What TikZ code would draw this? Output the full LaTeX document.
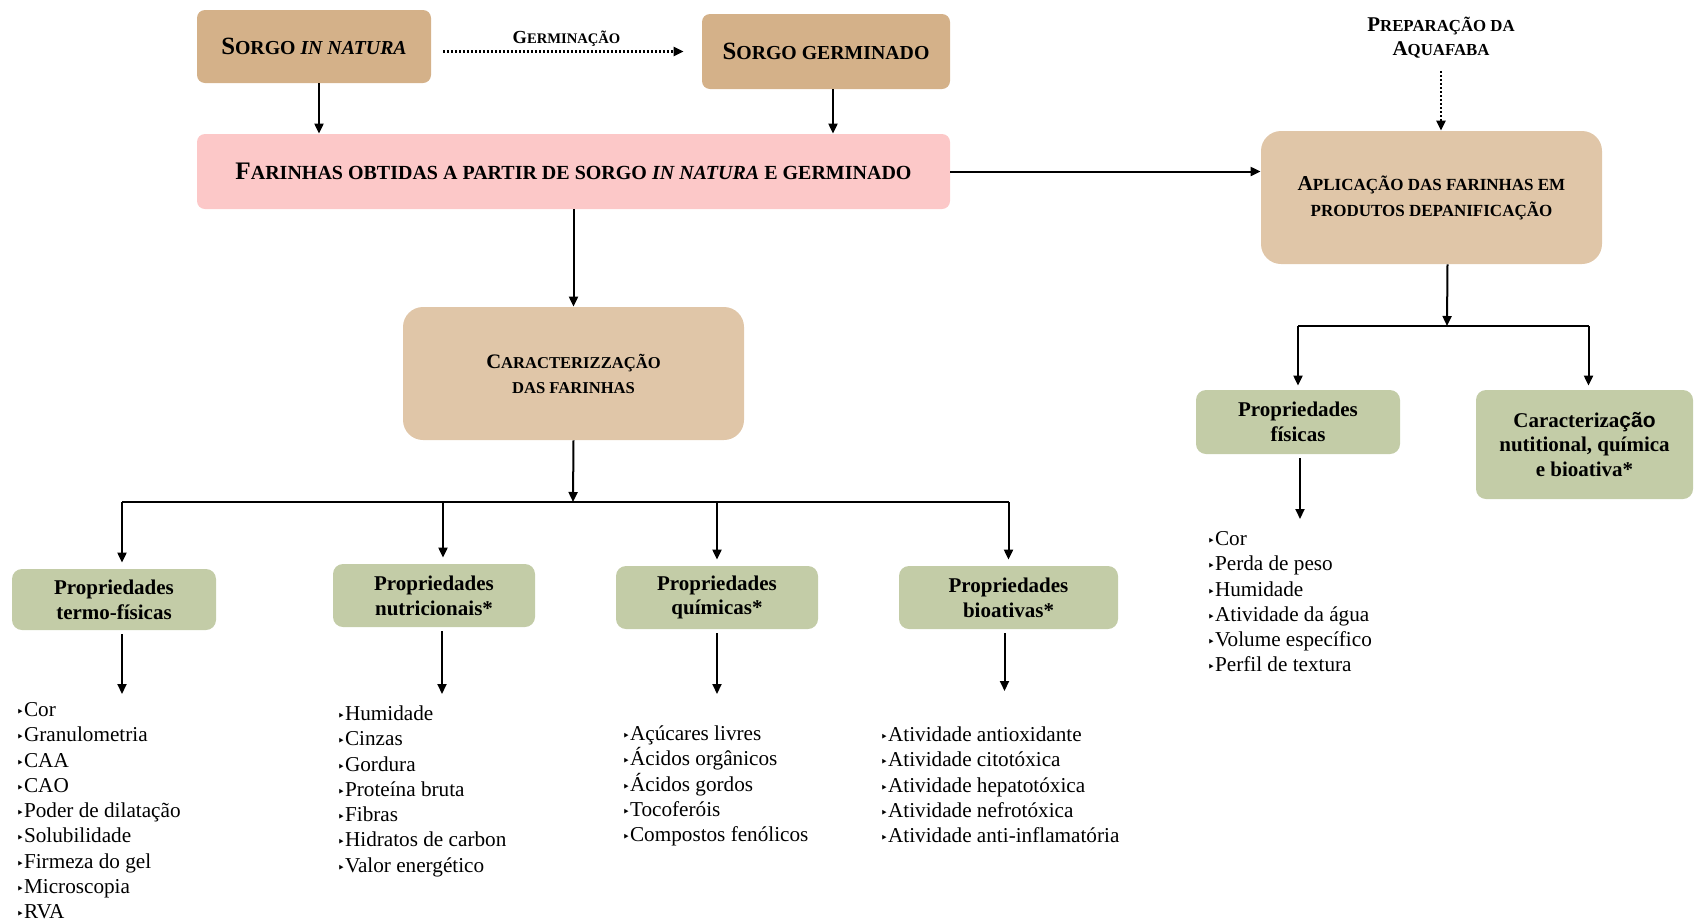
\documentclass[tikz,border=0pt]{standalone}
\usepackage{fontspec}
\setmainfont{Liberation Serif}
\setsansfont{Liberation Sans}
\newfontfamily\dvs{DejaVu Sans}
\usetikzlibrary{arrows.meta}
\definecolor{tanA}{RGB}{212,177,137}
\definecolor{tanB}{RGB}{224,198,168}
\definecolor{pinkA}{RGB}{252,200,200}
\definecolor{greenA}{RGB}{195,204,167}
\newcommand\Cp[2]{{\fontsize{#1}{#1}\selectfont #2}}
\newcommand\bl{{\dvs\fontsize{6.5}{6.5}\selectfont ‣}}
\newcommand\fr{\rule{0pt}{9pt}}
\begin{document}
\begin{tikzpicture}[x=0.5pt,y=-0.5pt,
  box/.style={inner sep=0pt, align=center, font=\bfseries},
  tanbox/.style={box, fill=tanA, rounded corners=4pt},
  lightbox/.style={box, fill=tanB, rounded corners=10pt},
  pinkbox/.style={box, fill=pinkA, rounded corners=4pt},
  greenbox/.style={box, fill=greenA, rounded corners=5pt, font=\bfseries\fontsize{10.5}{12.4}\selectfont},
  lst/.style={inner sep=0pt, align=left, anchor=north west, font=\fontsize{10.6}{12.65}\selectfont},
  arr/.style={-{Triangle[length=5pt,width=4.5pt]}, line width=1pt},
  dotarr/.style={-{Triangle[length=5pt,width=4.5pt]}, line width=1.2pt, dash pattern=on 1pt off 1pt},
  bus/.style={line width=1pt}
]
\useasboundingbox (0,0) rectangle (1694,922);

% top row
\node[tanbox, minimum width=117pt, minimum height=36.5pt, font=\bfseries\fontsize{9.9}{12}\selectfont] (sin) at (314,46.5)
  {\Cp{12.4}{S}ORGO \textit{IN NATURA}};
\node[tanbox, minimum width=124pt, minimum height=37.5pt, font=\bfseries\fontsize{9.9}{12}\selectfont] (sger) at (826,51.5)
  {\Cp{12.4}{S}ORGO GERMINADO};
\draw[dotarr, shorten <=6pt, shorten >=9pt] (sin.east |- sger.west) -- (sger.west)
  node[midway, above=1pt, inner sep=1pt, font=\bfseries\fontsize{7.3}{8}\selectfont] (gerl) {\Cp{9.2}{G}ERMINAÇÃO};

% farinhas
\node[pinkbox, minimum width=376.5pt, minimum height=37.5pt, font=\bfseries\fontsize{10}{12}\selectfont] (far) at (573.5,171.5)
  {\Cp{12.6}{F}ARINHAS OBTIDAS A PARTIR DE SORGO \textit{IN NATURA} E GERMINADO};
\draw[arr] ([xshift=2.5pt]sin.south) -- ([xshift=2.5pt]sin.south |- far.north);
\draw[arr] ([xshift=3.5pt]sger.south) -- ([xshift=3.5pt]sger.south |- far.north);

% aplicacao
\node[lightbox, minimum width=170.5pt, minimum height=66.5pt, font=\bfseries\fontsize{8.5}{13}\selectfont] (apl) at (1431.5,197.5)
  {\Cp{10.6}{A}PLICAÇÃO DAS FARINHAS EM\\PRODUTOS DEPANIFICAÇÃO};
\draw[arr] (far.east) -- (far.east -| apl.west);
\node[inner sep=0pt, align=center, font=\bfseries\fontsize{8.4}{12}\selectfont] (prep) at (1441,38)
  {\Cp{10.5}{P}REPARAÇÃO DA\\\Cp{10.5}{A}QUAFABA};
\draw[dotarr, shorten <=6pt] (prep.south) -- (prep.south |- apl.north);

% caracterizacao
\node[lightbox, minimum width=170.5pt, minimum height=66.5pt, font=\bfseries\fontsize{8.3}{12.5}\selectfont] (car) at (573.5,373.5)
  {\Cp{10.3}{C}ARACTERIZZAÇÃO\\DAS FARINHAS};
\draw[arr] (far.south) -- (car.north);

% green boxes row
\node[greenbox, minimum width=102pt, minimum height=30.5pt] (g1) at (114,599.5) {Propriedades\\termo-físicas};
\node[greenbox, minimum width=101pt, minimum height=31.5pt] (g2) at (434,595.5) {Propriedades\\nutricionais*};
\node[greenbox, minimum width=101pt, minimum height=31.5pt] (g3) at (717,597.5) {Propriedades\\químicas*};
\node[greenbox, minimum width=109.5pt, minimum height=31.5pt] (g4) at (1008.5,597.5) {Propriedades\\bioativas*};

\coordinate (busc) at (573,502);
\draw[arr] (car.south) -- (busc);
\draw[bus] ([xshift=4pt]g1.north |- busc) -- (g4.north |- busc);
\draw[arr, shorten >=3pt] ([xshift=4pt]g1.north |- busc) -- ([xshift=4pt]g1.north);
\draw[arr, shorten >=3pt] ([xshift=4.5pt]g2.north |- busc) -- ([xshift=4.5pt]g2.north);
\draw[arr, shorten >=3pt] (g3.north |- busc) -- (g3.north);
\draw[arr, shorten >=3pt] (g4.north |- busc) -- (g4.north);

% lists
\node[lst] (l1) at (16,698) {\fr\bl Cor\\\bl Granulometria\\\bl CAA\\\bl CAO\\\bl Poder de dilatação\\\bl Solubilidade\\\bl Firmeza do gel\\\bl Microscopia\\\bl RVA};
\node[lst] (l2) at (337,702) {\fr\bl Humidade\\\bl Cinzas\\\bl Gordura\\\bl Proteína bruta\\\bl Fibras\\\bl Hidratos de carbon\\\bl Valor energético};
\node[lst] (l3) at (622,722) {\fr\bl Açúcares livres\\\bl Ácidos orgânicos\\\bl Ácidos gordos\\\bl Tocoferóis\\\bl Compostos fenólicos};
\node[lst] (l4) at (880,723) {\fr\bl Atividade antioxidante\\\bl Atividade citotóxica\\\bl Atividade hepatotóxica\\\bl Atividade nefrotóxica\\\bl Atividade anti-inflamatória};
\draw[arr, shorten <=2pt, shorten >=2pt] ([xshift=4pt]g1.south) -- ([xshift=4pt]g1.south |- l1.north);
\draw[arr, shorten <=2pt, shorten >=4pt] ([xshift=4pt]g2.south) -- ([xshift=4pt]g2.south |- l2.north);
\draw[arr, shorten <=2pt, shorten >=14pt] (g3.south) -- (g3.south |- l3.north);
\draw[arr, shorten <=2pt, shorten >=16pt] ([xshift=-2pt]g4.south) -- ([xshift=-2pt]g4.south |- l4.north);

% right branch
\node[greenbox, minimum width=102pt, minimum height=32pt] (gf) at (1298,422) {Propriedades\\físicas};
\node[greenbox, minimum width=108.5pt, minimum height=54.5pt] (gc) at (1584.5,444.5) {Caracteriza{\sffamily ção}\\nutitional, química\\e bioativa*};
\coordinate (busr) at (1447,326);
\draw[arr] ([xshift=8pt]apl.south) -- (busr);
\draw[bus] (gf.north |- busr) -- ([xshift=2pt]gc.north |- busr);
\draw[arr, shorten >=2pt] (gf.north |- busr) -- (gf.north);
\draw[arr, shorten >=2pt] ([xshift=2pt]gc.north |- busr) -- ([xshift=2pt]gc.north);
\node[lst] (l5) at (1207,527) {\fr\bl Cor\\\bl Perda de peso\\\bl Humidade\\\bl Atividade da água\\\bl Volume específico\\\bl Perfil de textura};
\draw[arr, shorten <=2pt, shorten >=4pt] ([xshift=1pt]gf.south) -- ([xshift=1pt]gf.south |- l5.north);
\end{tikzpicture}
\end{document}
